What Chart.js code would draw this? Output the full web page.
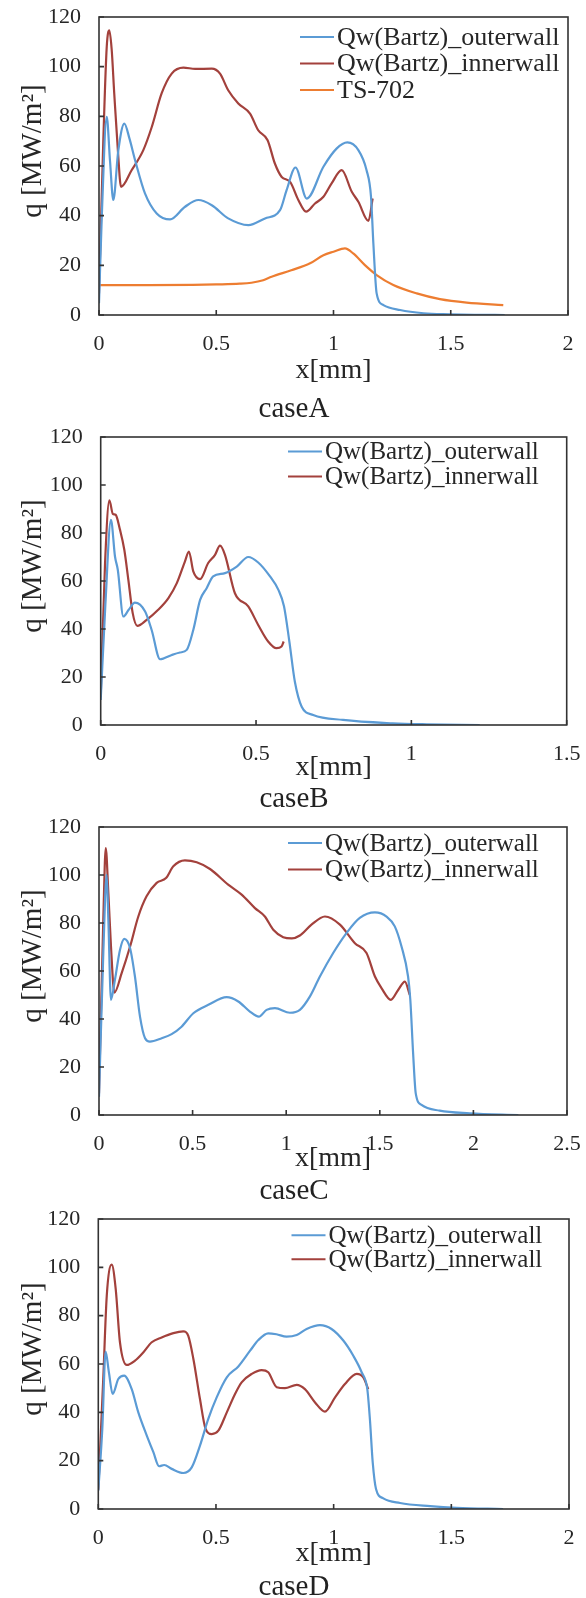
<!DOCTYPE html>
<html>
<head>
<meta charset="utf-8">
<script src="https://cdn.jsdelivr.net/npm/chart.js@4"></script>
<style>
  body { margin: 0; background: #fff; width: 586px; height: 1598px; position: relative; overflow: hidden; }
  .box { position: absolute; left: 0; width: 586px; }
  .cap { position: absolute; left: 0; width: 588px; text-align: center; font: 29px "Liberation Serif", serif; color: #222; line-height: 29px; }
</style>
</head>
<body>
<div class="box" style="top:0px"><canvas id="chartA" width="586" height="390"></canvas></div>
<div class="box" style="top:420px"><canvas id="chartB" width="586" height="380"></canvas></div>
<div class="box" style="top:810px"><canvas id="chartC" width="586" height="380"></canvas></div>
<div class="box" style="top:1202px"><canvas id="chartD" width="586" height="382"></canvas></div>
<div class="cap" style="top:393px">caseA</div>
<div class="cap" style="top:783px">caseB</div>
<div class="cap" style="top:1175px">caseC</div>
<div class="cap" style="top:1571px">caseD</div>
<script>
const FONT = '"Liberation Serif", "Times New Roman", serif';
const TEXT = "#262626";
const BLUE = "#5b9bd5";
const RED = "#a3413c";
const ORANGE = "#ed7d31";

const labels = ["Qw(Bartz)_outerwall", "Qw(Bartz)_innerwall", "TS-702"];
const yTicks = [0, 20, 40, 60, 80, 100, 120];

// caseA
const aOuterX = [0, 0.012, 0.033, 0.047, 0.061, 0.082, 0.108, 0.13, 0.154, 0.196, 0.246, 0.303, 0.367, 0.424, 0.481, 0.551, 0.637, 0.708, 0.772, 0.8, 0.838, 0.886, 0.957, 1.013, 1.059, 1.106, 1.141, 1.16, 1.17, 1.184, 1.213, 1.284, 1.384, 1.497, 1.6, 1.73];
const aOuterY = [4.7, 40, 79.8, 62, 46.3, 66, 77.1, 71, 62.3, 49, 40.9, 38.5, 43.6, 46.3, 44.2, 38.9, 36.2, 38.9, 42.2, 50.3, 59.4, 46.9, 59.7, 67, 69.5, 66.4, 58.3, 47.6, 28.8, 8.7, 4.0, 2.0, 0.7, 0.3, 0.1, 0];
const aInnerX = [0, 0.018, 0.033, 0.044, 0.054, 0.065, 0.08, 0.094, 0.139, 0.189, 0.225, 0.267, 0.31, 0.36, 0.41, 0.481, 0.516, 0.551, 0.594, 0.644, 0.679, 0.719, 0.75, 0.779, 0.815, 0.85, 0.883, 0.921, 0.957, 0.992, 1.035, 1.078, 1.106, 1.149, 1.167];
const aInnerY = [8.7, 69, 108, 114.6, 107, 89.2, 67, 51.6, 58.3, 66.4, 75.7, 89.2, 97.2, 99.6, 99.1, 99.2, 97.2, 90.5, 85.2, 81.1, 74.4, 70.4, 61, 55.6, 53.6, 46.3, 41.6, 44.9, 47.6, 53, 58.3, 49.6, 45.6, 37.9, 46.9];
const aTsX = [0, 0.2, 0.4, 0.5, 0.6, 0.65, 0.7, 0.736, 0.82, 0.9, 0.957, 1.0, 1.049, 1.084, 1.134, 1.184, 1.255, 1.355, 1.454, 1.568, 1.724];
const aTsY = [12, 12, 12.1, 12.3, 12.6, 13, 14, 15.4, 18, 20.8, 24.1, 25.5, 26.8, 24.8, 20.1, 16.1, 12.1, 8.7, 6.4, 5.0, 4.0];

// caseB
const bOuterX = [0, 0.015, 0.033, 0.046, 0.055, 0.073, 0.09, 0.11, 0.143, 0.164, 0.191, 0.229, 0.255, 0.277, 0.298, 0.32, 0.341, 0.362, 0.4, 0.438, 0.475, 0.507, 0.545, 0.572, 0.59, 0.607, 0.625, 0.647, 0.684, 0.78, 0.94, 1.05, 1.22];
const bOuterY = [10.4, 50, 85.5, 70.2, 64.7, 45.2, 48, 51, 47.3, 39.6, 27.4, 29.2, 30.2, 31.3, 39.6, 52.1, 57, 61.9, 63.3, 66, 70, 67.7, 61.9, 56.3, 49.5, 35, 18, 7.6, 4.2, 2.1, 0.7, 0.3, 0];
const bInnerX = [0, 0.014, 0.028, 0.039, 0.048, 0.062, 0.076, 0.089, 0.103, 0.118, 0.148, 0.185, 0.218, 0.245, 0.271, 0.284, 0.298, 0.32, 0.346, 0.368, 0.384, 0.4, 0.432, 0.475, 0.507, 0.539, 0.566, 0.582, 0.589];
const bInnerY = [11.8, 67.5, 93.6, 88, 87.6, 81.4, 73, 60.5, 46.6, 41.3, 43.8, 48, 52.9, 59.1, 68.1, 72.3, 64, 60.8, 67.5, 70.9, 74.7, 70.9, 54.9, 49.4, 41.7, 34.8, 32, 32.7, 34.8];

// caseC
const cOuterX = [0, 0.023, 0.041, 0.05, 0.064, 0.085, 0.112, 0.135, 0.166, 0.192, 0.219, 0.246, 0.272, 0.335, 0.388, 0.441, 0.504, 0.584, 0.682, 0.744, 0.806, 0.854, 0.895, 0.94, 1.02, 1.073, 1.127, 1.18, 1.251, 1.322, 1.393, 1.474, 1.536, 1.58, 1.616, 1.651, 1.663, 1.678, 1.692, 1.723, 1.82, 1.98, 2.24];
const cOuterY = [7.6, 67.5, 100.1, 81.4, 48, 56.3, 68.8, 73.4, 69.5, 57.7, 41, 32, 30.6, 32, 33.7, 36.8, 42.4, 45.9, 49.1, 47.3, 43.1, 41, 43.8, 44.5, 42.6, 43.8, 49.4, 57.7, 67.5, 75.8, 82.1, 84.4, 82.7, 78.6, 70.2, 57.7, 48, 25.7, 9.0, 4.2, 1.8, 0.7, 0];
const cInnerX = [0, 0.023, 0.036, 0.05, 0.064, 0.082, 0.121, 0.166, 0.21, 0.254, 0.308, 0.358, 0.397, 0.459, 0.522, 0.593, 0.69, 0.762, 0.833, 0.886, 0.931, 0.984, 1.03, 1.073, 1.135, 1.207, 1.287, 1.367, 1.429, 1.474, 1.509, 1.559, 1.598, 1.634, 1.66];
const cInnerY = [9, 81.4, 111.2, 92.5, 70.2, 51, 59.1, 70.2, 82.7, 91.1, 96.7, 98.7, 103.6, 106.1, 105.3, 102.5, 96, 91.8, 86.2, 82.7, 77.2, 74.1, 73.6, 74.8, 79.3, 82.7, 79.3, 71.6, 67.5, 57.7, 52.9, 48, 52.1, 55.6, 50.1];

// caseD
const dOuterX = [0, 0.017, 0.031, 0.045, 0.061, 0.085, 0.11, 0.142, 0.17, 0.206, 0.234, 0.258, 0.28, 0.312, 0.361, 0.397, 0.432, 0.467, 0.503, 0.546, 0.595, 0.645, 0.68, 0.722, 0.757, 0.8, 0.843, 0.885, 0.942, 0.991, 1.041, 1.083, 1.119, 1.143, 1.154, 1.166, 1.18, 1.211, 1.282, 1.41, 1.523, 1.72];
const dOuterY = [7.6, 33.1, 65.1, 56.6, 47.6, 53.8, 55.2, 49.6, 40, 30.4, 23.5, 17.7, 18.2, 16.6, 14.9, 17.2, 26.2, 37.2, 46.2, 54.5, 59, 65.5, 69.9, 72.7, 72.3, 71.3, 72, 74.5, 76.1, 74.5, 69.7, 63.5, 56.6, 49.6, 37.2, 19.3, 8.3, 4.4, 2.5, 1.2, 0.5, 0];
const dInnerX = [0, 0.021, 0.036, 0.057, 0.074, 0.092, 0.121, 0.156, 0.191, 0.227, 0.269, 0.319, 0.361, 0.382, 0.404, 0.432, 0.456, 0.482, 0.51, 0.546, 0.581, 0.609, 0.652, 0.694, 0.722, 0.758, 0.793, 0.843, 0.878, 0.921, 0.963, 1.006, 1.048, 1.098, 1.126, 1.147];
const dInnerY = [8, 53.8, 88.3, 101.1, 91, 69, 59.6, 61.4, 64.8, 69, 71, 72.8, 73.5, 71.7, 62.1, 45.5, 33.1, 31, 32.4, 40, 47.6, 52.4, 55.9, 57.5, 56.6, 50.4, 50, 51.4, 49.6, 44.1, 40.3, 46.2, 51.7, 55.9, 54.5, 49.6];

function pts(xs, ys) {
  return xs.map((v, i) => ({ x: v, y: ys[i] }));
}

// box, inner tick marks, legend and rotated y title
const frame = {
  id: "frame",
  afterDatasetsDraw(chart, args, o) {
    const { ctx, chartArea: a, scales } = chart;
    ctx.save();
    ctx.strokeStyle = "#333";
    ctx.lineWidth = 1.6;
    ctx.strokeRect(a.left, a.top, a.right - a.left, a.bottom - a.top);
    ctx.beginPath();
    scales.y.ticks.forEach((t) => {
      const p = scales.y.getPixelForValue(t.value);
      ctx.moveTo(a.left, p);
      ctx.lineTo(a.left + 5, p);
    });
    scales.x.ticks.forEach((t) => {
      const p = scales.x.getPixelForValue(t.value);
      ctx.moveTo(p, a.bottom);
      ctx.lineTo(p, a.bottom - 5);
    });
    ctx.stroke();

    ctx.font = o.size + "px " + FONT;
    ctx.textBaseline = "middle";
    ctx.textAlign = "left";
    chart.data.datasets.forEach((d, i) => {
      const yy = a.top + o.ly + i * o.gap;
      ctx.strokeStyle = d.borderColor;
      ctx.lineWidth = 2;
      ctx.beginPath();
      ctx.moveTo(o.lx, yy);
      ctx.lineTo(o.lx + 34, yy);
      ctx.stroke();
      ctx.fillStyle = TEXT;
      ctx.fillText(d.label, o.lx + 37, yy + 1);
    });

    ctx.translate(33.6, (a.top + a.bottom) / 2 - 15);
    ctx.rotate(-Math.PI / 2);
    ctx.font = "29px " + FONT;
    ctx.textAlign = "center";
    ctx.fillText("q [MW/m²]", 0, 0);
    ctx.restore();
  },
};

function noPad(s) {
  s.paddingTop = 0;
  s.paddingBottom = 0;
  s.paddingLeft = 0;
  s.paddingRight = 0;
}

function makeChart(id, c) {
  const sets = c.series.map((s, i) => ({
    label: labels[i],
    data: pts(s[0], s[1]),
    borderColor: [BLUE, RED, ORANGE][i],
    borderWidth: 2.2,
    pointRadius: 0,
    fill: false,
    cubicInterpolationMode: "monotone",
  }));
  return new Chart(document.getElementById(id), {
    type: "line",
    data: { datasets: sets },
    options: {
      responsive: false,
      animation: false,
      layout: { padding: { top: 17, right: 586 - c.right, left: 0, bottom: 0 } },
      plugins: {
        legend: { display: false },
        tooltip: { enabled: false },
        frame: { lx: c.lx, ly: c.ly, gap: c.gap, size: c.legendSize },
      },
      scales: {
        x: {
          type: "linear",
          min: 0,
          max: c.xMax,
          ticks: { stepSize: 0.5, padding: 16, maxRotation: 0, autoSkip: false, color: TEXT, font: { family: FONT, size: 22 }, callback: (v) => String(+v) },
          grid: { display: false, drawTicks: false },
          border: { display: false },
          title: { display: true, text: "x[mm]", color: TEXT, font: { family: FONT, size: 28 }, padding: { top: 0, bottom: c.titlePad } },
          afterFit: (s) => { s.height = 75; noPad(s); },
        },
        y: {
          min: 0,
          max: 120,
          afterBuildTicks: (s) => { s.ticks = yTicks.map((v) => ({ value: v })); },
          ticks: { padding: 18, color: TEXT, font: { family: FONT, size: 22 } },
          grid: { display: false, drawTicks: false },
          border: { display: false },
          afterFit: (s) => { s.width = c.left; noPad(s); },
        },
      },
    },
    plugins: [frame],
  });
}

makeChart("chartA", {
  series: [[aOuterX, aOuterY], [aInnerX, aInnerY], [aTsX, aTsY]],
  xMax: 2, left: 99, right: 568, titlePad: 3, lx: 300, ly: 20, gap: 26.5, legendSize: 26,
});
makeChart("chartB", {
  series: [[bOuterX, bOuterY], [bInnerX, bInnerY]],
  xMax: 1.5, left: 100.7, right: 566.7, titlePad: 16, lx: 288, ly: 14.4, gap: 25, legendSize: 25,
});
makeChart("chartC", {
  series: [[cOuterX, cOuterY], [cInnerX, cInnerY]],
  xMax: 2.5, left: 99, right: 567, titlePad: 15, lx: 288, ly: 16, gap: 26.5, legendSize: 25,
});
makeChart("chartD", {
  series: [[dOuterX, dOuterY], [dInnerX, dInnerY]],
  xMax: 2, left: 98.3, right: 569, titlePad: 14, lx: 291.5, ly: 16.3, gap: 24, legendSize: 25,
});
</script>
</body>
</html>
